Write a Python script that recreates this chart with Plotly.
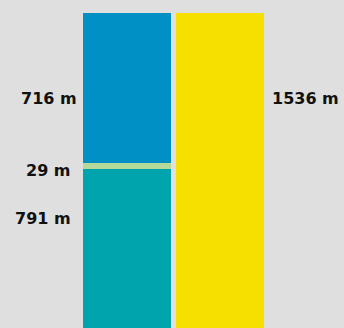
import plotly.graph_objects as go

# Data
bar_positions = [0, 1]
segment_names = ["791 m", "29 m", "716 m", "1536 m"]
left_values = [791, 29, 716]
right_values = [1536]
left_colors = ["#00a4ad", "#b6da99", "#0090c5"]
right_color = "#f5e000"

bg = "#dfdfdf"
bar_width = 0.946

fig = go.Figure()
for val, col, name in zip(left_values, left_colors, segment_names[:3]):
    fig.add_trace(go.Bar(x=[bar_positions[0]], y=[val], marker=dict(color=col, line=dict(width=0)),
                         width=bar_width, name=name, hoverinfo="skip"))
fig.add_trace(go.Bar(x=[bar_positions[1]], y=right_values, marker=dict(color=right_color, line=dict(width=0)),
                     width=bar_width, name=segment_names[3], hoverinfo="skip"))

font = dict(family="DejaVu Sans", size=16, color="#111111", weight="bold")
left_edge = bar_positions[0] - bar_width / 2
right_edge = bar_positions[1] + bar_width / 2

annotations = [
    dict(x=left_edge, y=1130, text=segment_names[2], xanchor="right", yanchor="middle", xshift=-4, showarrow=False, font=font),
    dict(x=left_edge, y=786, text=segment_names[1], xanchor="right", yanchor="middle", xshift=-10, showarrow=False, font=font),
    dict(x=left_edge, y=556, text=segment_names[0], xanchor="right", yanchor="middle", xshift=-10, showarrow=False, font=font),
    dict(x=right_edge, y=1130, text=segment_names[3], xanchor="left", yanchor="middle", xshift=6, showarrow=False, font=font),
]

fig.update_layout(
    barmode="stack",
    width=344, height=328,
    margin=dict(l=0, r=0, t=13, b=0),
    paper_bgcolor=bg, plot_bgcolor=bg,
    showlegend=False,
    xaxis=dict(range=[-127/93, 217/93], visible=False, fixedrange=True),
    yaxis=dict(range=[32, 1536], visible=False, fixedrange=True),
    annotations=annotations,
)

fig.write_html("out.html", config={"displayModeBar": False},
               post_script="document.body.style.margin='0';document.body.style.background='#dfdfdf';")
